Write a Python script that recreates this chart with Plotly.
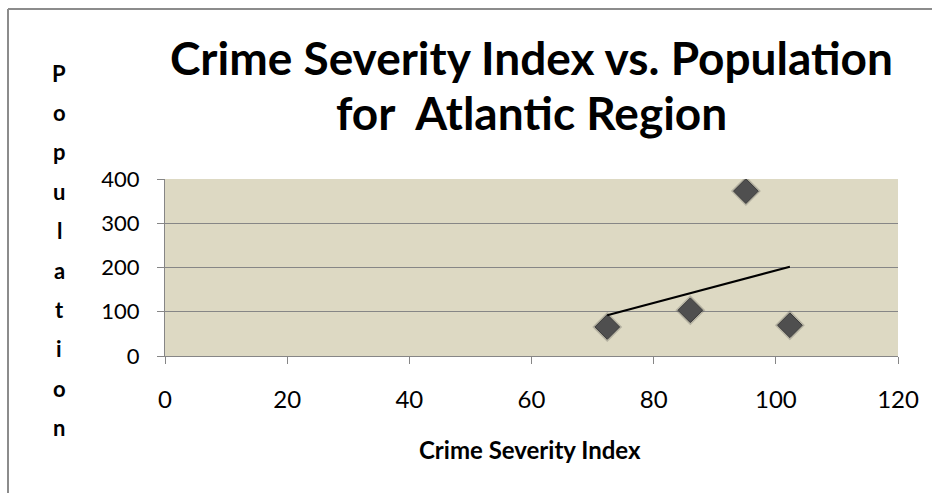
import numpy as np
import plotly.graph_objects as go

# Atlantic region: crime severity index vs. population (thousands)
crime_severity = [72.4, 86.0, 95.1, 102.3]
population = [65.6, 103.4, 372.6, 69.5]

x_ticks = [0, 20, 40, 60, 80, 100, 120]
y_ticks = [0, 100, 200, 300, 400]

W, H = 932, 493
L, R, T, B = 165, 34, 179, 137
plot_w = W - L - R
plot_h = H - T - B


def px_x(x):
    return (x - L) / plot_w


def px_y(y):
    return (H - B - y) / plot_h


# least-squares linear trendline over the data range
slope, intercept = np.polyfit(crime_severity, population, 1)
trend_x = [min(crime_severity), max(crime_severity)]
trend_y = [slope * v + intercept for v in trend_x]

fig = go.Figure()

# soft halo under the diamonds
fig.add_trace(go.Scatter(
    x=crime_severity, y=population, mode="markers",
    marker=dict(symbol="diamond", size=23, color="rgba(60,60,60,0.25)",
                line=dict(width=0)),
    hoverinfo="skip", showlegend=False,
))
fig.add_trace(go.Scatter(
    x=crime_severity, y=population, mode="markers",
    marker=dict(symbol="diamond", size=19, color="#4f4f4f",
                line=dict(width=1, color="#3a3a3a")),
    showlegend=False,
))
fig.add_trace(go.Scatter(
    x=trend_x, y=trend_y, mode="lines",
    line=dict(color="#000000", width=2),
    showlegend=False,
))

fig.update_layout(
    width=W, height=H,
    margin=dict(l=L, r=R, t=T, b=B),
    paper_bgcolor="#ffffff",
    plot_bgcolor="#ddd9c3",
    xaxis=dict(
        range=[0, 120], tickvals=x_ticks, ticktext=[str(v) for v in x_ticks],
        showgrid=False, zeroline=False,
        showline=True, linecolor="#868686", linewidth=1,
        ticks="outside", ticklen=7, tickcolor="#868686",
        ticklabelstandoff=15,
        tickfont=dict(family="Lato", size=24, color="#000000"),
        fixedrange=True,
    ),
    yaxis=dict(
        range=[0, 400], tickvals=y_ticks, ticktext=[str(v) for v in y_ticks],
        showgrid=True, gridcolor="#868686", gridwidth=1,
        zeroline=False,
        showline=True, linecolor="#868686", linewidth=1,
        ticks="outside", ticklen=7, tickcolor="#868686",
        ticklabelstandoff=13,
        tickfont=dict(family="Lato", size=22, color="#000000"),
        fixedrange=True,
    ),
    font=dict(family="Lato", color="#000000"),
)

# chart title, two lines centred over the plot area
title_lines = ["Crime Severity Index vs. Population", "for  Atlantic Region"]
for line, top in zip(title_lines, [28, 83]):
    fig.add_annotation(
        text=f"<b>{line}</b>",
        xref="paper", yref="paper", x=0.5, y=px_y(top),
        xanchor="center", yanchor="top", showarrow=False,
        font=dict(family="Lato", size=46, color="#000000"),
    )

# x-axis title
fig.add_annotation(
    text="<b>Crime Severity Index</b>",
    xref="paper", yref="paper", x=px_x(530), y=px_y(449),
    xanchor="center", yanchor="middle", showarrow=False,
    font=dict(family="Lato", size=24, color="#000000"),
)

# y-axis title, stacked one letter per row
letters = list("Population")
y0, step = 73, 39.4
for i, ch in enumerate(letters):
    fig.add_annotation(
        text=f"<b>{ch}</b>",
        xref="paper", yref="paper", x=px_x(59), y=px_y(y0 + i * step),
        xanchor="center", yanchor="middle", showarrow=False,
        font=dict(family="Lato", size=22, color="#000000"),
    )

# chart-area frame (top and left edges)
fig.add_shape(type="line", xref="paper", yref="paper",
              x0=px_x(8), x1=px_x(W + 5), y0=px_y(9), y1=px_y(9),
              line=dict(color="#8c8c8c", width=2))
fig.add_shape(type="line", xref="paper", yref="paper",
              x0=px_x(8), x1=px_x(8), y0=px_y(9), y1=px_y(H + 5),
              line=dict(color="#8c8c8c", width=2))

fig.write_html("out.html")
